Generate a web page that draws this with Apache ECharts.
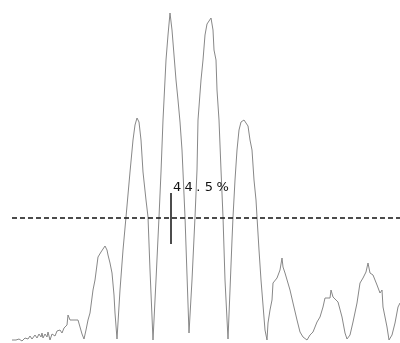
<!DOCTYPE html>
<html>
<head>
<meta charset="utf-8">
<script src="https://cdn.jsdelivr.net/npm/echarts@6/dist/echarts.min.js"></script>
<style>
html,body{margin:0;padding:0;background:#fff;}
#chart{width:400px;height:343px;}
</style>
</head>
<body>
<div id="chart"></div>
<script>
// Sample positions and signal levels
var xs = [12,14,16,19,22,25,28,30,32,35,37,39,41,42,43,45,47,48,50,52,53,55,57,60,62,64,66,67,68,70,72,75,78,80,82,84,86,88,90,93,95,98,101,103,105,107,108,110,112,114,115,117,120,123,126,130,133,135,137,139,141,143,146,148,150,153,156,159,161,163,166,168,170,172,174,176,178,180,182,183,185,187,189,192,195,197,198,201,203,205,207,209,211,213,214,216,217,219,221,223,225,228,230,232,233,235,237,239,241,244,246,248,250,252,254,256,257,259,261,263,265,267,268,270,272,273,277,280,282,283,285,287,290,293,297,300,303,307,310,313,317,320,323,325,330,331,333,335,338,342,345,347,350,353,357,360,363,366,368,370,373,377,380,382,383,387,389,392,395,398,400];
var levels = [3,5,3,4,2,5,4,7,4,8,5,9,6,10,5,9,6,11,3,9,10,7,12,13,10,15,13,18,28,23,23,23,23,16,9,4,13,23,30,53,63,86,91,94,97,93,88,80,70,48,30,4,53,93,126,171,203,218,225,221,203,171,143,126,73,3,63,126,171,223,283,308,330,313,288,263,243,221,193,171,126,68,10,63,126,173,223,263,283,308,319,321,325,313,293,283,253,223,173,126,63,4,53,103,126,163,193,213,221,223,225,217,203,193,163,143,126,93,63,38,13,3,20,33,43,60,65,73,85,76,70,68,53,40,23,11,6,3,8,11,21,26,36,45,45,53,46,45,41,26,10,4,8,21,40,60,65,71,80,70,68,58,50,53,36,16,3,8,20,36,40];
var threshold = [125.5];
var marker = [171, 99, 150];   // x, bottom level, top level
var markerLabel = ['44.5%'];
var labelLevel = [155];

var pts = xs.map(function(x, i){ return [x, levels[i]]; });

var chars = markerLabel[0].split('');
function spaced(){
  return chars.map(function(c){
    if (c === '.') return '{d|' + c + '}';
    if (c === '%') return '{p|' + c + '}';
    return '{n|' + c + '}';
  }).join('');
}

var chart = echarts.init(document.getElementById('chart'), null, {renderer:'canvas'});
chart.setOption({
  animation: false,
  backgroundColor: '#ffffff',
  grid: {left: 12, right: 0, top: 0, bottom: 0},
  xAxis: {type: 'value', min: 12, max: 400, show: false},
  yAxis: {type: 'value', min: 0, max: 343, show: false},
  series: [{
    type: 'line',
    data: pts,
    symbol: 'none',
    clip: false,
    lineStyle: {color: '#888888', width: 1},
    markLine: {
      silent: true,
      symbol: ['none','none'],
      label: {show: false},
      data: [
        {yAxis: threshold[0], lineStyle: {color: '#111', width: 1.5, type: [5,3]}},
        [
          {coord: [marker[0], marker[1]], lineStyle: {color: '#111', width: 1.5, type: 'solid'}},
          {coord: [marker[0], marker[2]]}
        ]
      ]
    },
    markPoint: {
      silent: true,
      symbol: 'circle',
      symbolSize: 0,
      data: [{coord: [marker[0], labelLevel[0]]}],
      label: {
        show: true,
        position: 'right',
        distance: 2,
        formatter: spaced,
        color: '#111',
        fontFamily: 'DejaVu Sans',
        fontSize: 13,
        rich: {
          n: {width: 11.6, align: 'left', fontSize: 13, fontFamily: 'DejaVu Sans', color: '#111'},
          d: {width: 8.6, align: 'left', fontSize: 13, fontFamily: 'DejaVu Sans', color: '#111'},
          p: {width: 14, align: 'left', fontSize: 13, fontFamily: 'DejaVu Sans', color: '#111'}
        }
      }
    }
  }]
});
</script>
</body>
</html>
